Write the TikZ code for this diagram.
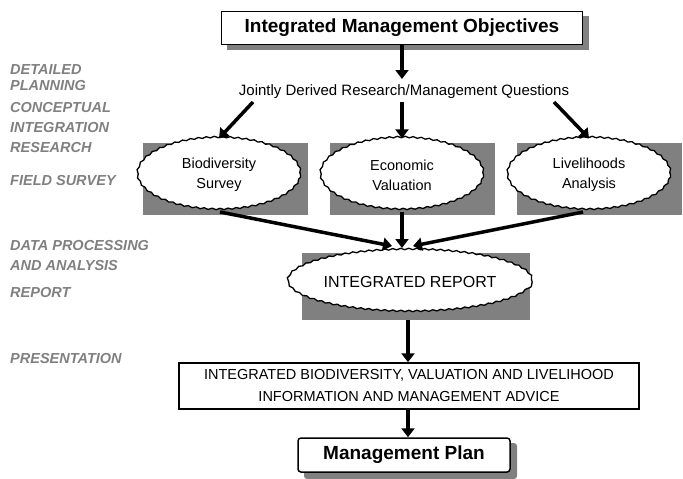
\documentclass[tikz,border=0pt]{standalone}
\usepackage{fontspec}
\setmainfont{Liberation Sans}
\usetikzlibrary{shapes.geometric,decorations.pathmorphing,arrows.meta}
\begin{document}
\begin{tikzpicture}[x=1pt,y=-1pt,
  side/.style={anchor=west,text=black!50,font=\fontsize{14.5}{15}\selectfont\bfseries\itshape,inner sep=0},
  bigarrow/.style={line width=3.5pt,-{Triangle[length=9pt,width=13pt]}},
  wavy/.style={ellipse,draw,line width=1.3pt,fill=white,decorate,decoration={snake,amplitude=0.7pt,segment length=8pt},align=center,inner sep=0},
  boxst/.style={draw,line width=1.5pt,fill=white,align=center}
]
\useasboundingbox (0,0) rectangle (683,479);
% side labels
\node[side] (l1) at (10,70) {DETAILED};
\node[side] (l2) at (10,86) {PLANNING};
\node[side] (l3) at (10,108) {CONCEPTUAL};
\node[side] (l4) at (10,128) {INTEGRATION};
\node[side] (l5) at (10,148) {RESEARCH};
\node[side] (l6) at (10,181) {FIELD SURVEY};
\node[side] (l7) at (10,246) {DATA PROCESSING};
\node[side] (l8) at (10,266) {AND ANALYSIS};
\node[side] (l9) at (10,293) {REPORT};
\node[side] (l10) at (10,359) {PRESENTATION};
% top box
\fill[black!50] (227,16) rectangle (589,50);
\node[boxst,minimum width=361pt,minimum height=33pt,font=\fontsize{19}{22}\selectfont\bfseries] (obj) at (402,28) {Integrated Management Objectives};
% questions
\node[font=\fontsize{15}{18}\selectfont,inner sep=1pt] (q) at (404,92) {Jointly Derived Research/Management Questions};
\coordinate (qa) at (253,102);
\coordinate (qb) at (402,102);
\coordinate (qc) at (554,102);
% gray rects
\fill[black!50] (143,143) rectangle (308,215);
\fill[black!50] (330,143) rectangle (495,215);
\fill[black!50] (517,143) rectangle (682,215);
\node[wavy,minimum width=163pt,minimum height=72pt,font=\fontsize{14.5}{20}\selectfont] (bio) at (219,175) {Biodiversity\\Survey};
\node[wavy,minimum width=163pt,minimum height=72pt,font=\fontsize{14.5}{20}\selectfont] (eco) at (402,175) {Economic\\Valuation};
\node[wavy,minimum width=163pt,minimum height=72pt,font=\fontsize{14.5}{20}\selectfont] (liv) at (589,175) {Livelihoods\\Analysis};
% report
\fill[black!50] (302,253) rectangle (530,320);
\node[wavy,minimum width=228pt,minimum height=62pt,font=\fontsize{16}{19}\selectfont] (rep) at (410,282) {INTEGRATED REPORT};
\coordinate (repout) at (408,320);
% presentation
\node[boxst,minimum width=460pt,minimum height=46pt,font=\fontsize{14.5}{22}\selectfont,inner sep=0] (pres) at (409,386) {INTEGRATED BIODIVERSITY, VALUATION AND LIVELIHOOD\\INFORMATION AND MANAGEMENT ADVICE};
% management plan
\fill[black!50,rounded corners=3pt] (304,443) rectangle (517,479);
\node[boxst,rounded corners=3pt,minimum width=212pt,minimum height=34pt,font=\fontsize{19}{22}\selectfont\bfseries] (plan) at (404,455) {Management Plan};
% arrows
\draw[bigarrow] (obj.south) -- (402,79);
\draw[bigarrow] (qa) -- (bio.north);
\draw[bigarrow] (qb) -- (eco.north);
\draw[bigarrow] (qc) -- (liv.north);
\draw[bigarrow] (220,212) -- (392,246);
\draw[bigarrow] (eco.south) -- (402,248);
\draw[bigarrow] (583,212) -- (413,246);
\draw[bigarrow] (repout) -- (repout |- pres.north);
\draw[bigarrow] (repout |- pres.south) -- (repout |- plan.north);
\end{tikzpicture}
\end{document}
